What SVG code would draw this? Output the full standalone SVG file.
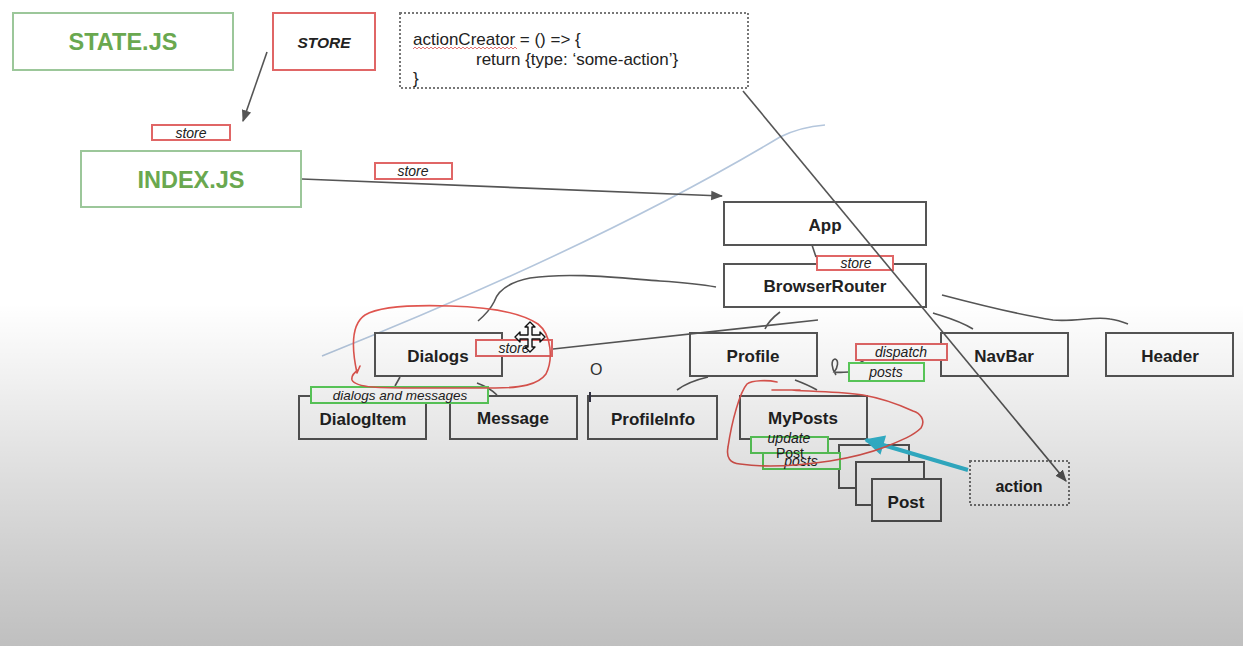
<svg xmlns="http://www.w3.org/2000/svg" width="1243" height="646" viewBox="0 0 1243 646">
  <style>
    .box{fill:#fff;stroke:#555;stroke-width:2}
    .gbox{fill:#fff;stroke:#9cc79a;stroke-width:2}
    .rbox{fill:#fff;stroke:#e06666;stroke-width:2}
    .glab{fill:#fff;stroke:#5ccf5c;stroke-width:2}
    .dot{fill:#fff;stroke:#777;stroke-width:2;stroke-dasharray:2 2}
    .t{font-family:"Liberation Sans",Arial,sans-serif;font-weight:bold;font-size:17px;fill:#222;text-anchor:middle}
    .big{font-size:23.5px;fill:#6aa84f}
    .lab{font-family:"Liberation Sans",Arial,sans-serif;font-style:italic;font-size:14px;fill:#222;text-anchor:middle}
    .code{font-family:"Liberation Sans",Arial,sans-serif;font-size:17px;fill:#222}
    .ln{fill:none;stroke:#555;stroke-width:1.6}
    .pen{fill:none;stroke:#e0554f;stroke-width:1.6;stroke-linejoin:round;stroke-linecap:round}
  </style>
  <defs>
    <marker id="ah" viewBox="0 0 10 10" refX="9" refY="5" markerWidth="12" markerHeight="12" markerUnits="userSpaceOnUse" orient="auto">
      <path d="M0,1 L10,5 L0,9 z" fill="#555"/>
    </marker>
    <marker id="cy" viewBox="0 0 10 10" refX="9" refY="5" markerWidth="22" markerHeight="20" markerUnits="userSpaceOnUse" orient="auto">
      <path d="M0,0 L10,5 L0,10 z" fill="#35bcd6"/>
    </marker>
    <linearGradient id="shade" x1="0" y1="0" x2="0" y2="1">
      <stop offset="0" stop-color="#000" stop-opacity="0"/>
      <stop offset="0.47" stop-color="#000" stop-opacity="0"/>
      <stop offset="0.75" stop-color="#000" stop-opacity="0.137"/>
      <stop offset="1" stop-color="#000" stop-opacity="0.25"/>
    </linearGradient>
  </defs>

  <rect x="0" y="0" width="1243" height="646" fill="#fff"/>

  <!-- light blue sketch stroke behind everything -->
  <path d="M322,356 Q600,245 780,137 Q800,127 825,125" fill="none" stroke="#b4c6dc" stroke-width="1.6"/>

  <g id="state-js">
    <rect class="gbox" x="13" y="13" width="220" height="57"/>
    <text class="t big" x="123" y="50">STATE.JS</text>
  </g>
  <g id="store-box">
    <rect class="rbox" x="273" y="13" width="102" height="57"/>
    <text class="t" x="324" y="48" style="font-style:italic;font-size:15.5px">STORE</text>
  </g>
  <g id="action-creator">
    <rect class="dot" x="400" y="13" width="348" height="75"/>
    <text class="code" x="413" y="45">actionCreator = () =&gt; {</text>
    <text class="code" x="476" y="65">return {type: ‘some-action’}</text>
    <text class="code" x="413" y="84">}</text>
    <polyline points="413,49 415,47 417,49 419,47 421,49 423,47 425,49 427,47 429,49 431,47 433,49 435,47 437,49 439,47 441,49 443,47 445,49 447,47 449,49 451,47 453,49 455,47 457,49 459,47 461,49 463,47 465,49 467,47 469,49 471,47 473,49 475,47 477,49 479,47 481,49 483,47 485,49 487,47 489,49 491,47 493,49 495,47 497,49 499,47 501,49 503,47 505,49 507,47 509,49 511,47 513,49 515,47 517,49" fill="none" stroke="#e06666" stroke-width="0.9"/>
  </g>
  <g id="index-js">
    <rect class="gbox" x="81" y="151" width="220" height="56"/>
    <text class="t big" x="191" y="188">INDEX.JS</text>
  </g>
  <g id="app">
    <rect class="box" x="724" y="202" width="202" height="43"/>
    <text class="t" x="825" y="231">App</text>
  </g>
  <g id="browser-router">
    <rect class="box" x="724" y="264" width="202" height="43"/>
    <text class="t" x="825" y="292">BrowserRouter</text>
  </g>
  <g id="dialogs">
    <rect class="box" x="375" y="333" width="127" height="43"/>
    <text class="t" x="438" y="362">Dialogs</text>
  </g>
  <g id="profile">
    <rect class="box" x="690" y="333" width="127" height="43"/>
    <text class="t" x="753" y="362">Profile</text>
  </g>
  <g id="navbar">
    <rect class="box" x="941" y="333" width="127" height="43"/>
    <text class="t" x="1004" y="362">NavBar</text>
  </g>
  <g id="header">
    <rect class="box" x="1106" y="333" width="127" height="43"/>
    <text class="t" x="1170" y="362">Header</text>
  </g>
  <g id="dialog-item">
    <rect class="box" x="299" y="396" width="127" height="43"/>
    <text class="t" x="363" y="425">DialogItem</text>
  </g>
  <g id="message">
    <rect class="box" x="450" y="396" width="127" height="43"/>
    <text class="t" x="513" y="424">Message</text>
  </g>
  <g id="profile-info">
    <rect class="box" x="588" y="396" width="129" height="43"/>
    <text class="t" x="653" y="425">ProfileInfo</text>
  </g>
  <g id="my-posts">
    <rect class="box" x="740" y="396" width="127" height="43"/>
    <text class="t" x="803" y="424">MyPosts</text>
  </g>
  <g id="post-stack">
    <rect class="box" x="839" y="445" width="70" height="43"/>
    <rect class="box" x="856" y="462" width="68" height="43"/>
    <rect class="box" x="872" y="479" width="69" height="42"/>
    <text class="t" x="906" y="508">Post</text>
  </g>
  <g id="action">
    <rect class="dot" x="970" y="461" width="99" height="44"/>
    <text class="t" x="1019" y="492" style="font-size:16px">action</text>
  </g>

  <g id="label-store-1">
    <rect class="rbox" x="152" y="125" width="78" height="15"/>
    <text class="lab" x="191" y="138">store</text>
  </g>
  <g id="label-store-2">
    <rect class="rbox" x="375" y="163" width="77" height="16"/>
    <text class="lab" x="413" y="176">store</text>
  </g>
  <g id="label-store-3">
    <rect class="rbox" x="817" y="256" width="76" height="14"/>
    <text class="lab" x="856" y="268">store</text>
  </g>

  <!-- connectors, drawn over the boxes -->
  <g id="connectors">
    <line class="ln" x1="267" y1="52" x2="243" y2="121" marker-end="url(#ah)"/>
    <line class="ln" x1="302" y1="179" x2="722" y2="196" marker-end="url(#ah)"/>
    <line class="ln" x1="743" y1="91" x2="1066" y2="481" marker-end="url(#ah)"/>
    <line class="ln" x1="812" y1="245" x2="816" y2="257"/>
    <path class="ln" d="M478,321 C485,315 490,310 494,302 C498,290 510,282 530,278 C570,272 620,278 660,281 C690,283 705,285 716,287"/>
    <path class="ln" d="M553,349 L818,320"/>
    <path class="ln" d="M780,312 C772,318 768,322 765,329"/>
    <path class="ln" d="M942,295 C980,305 1020,315 1053,320 C1075,322 1095,316 1110,319 C1118,320 1123,322 1128,324"/>
    <path class="ln" d="M933,313 C945,317 958,320 973,329"/>
    <path class="ln" d="M400,377 L395,386"/>
    <path class="ln" d="M477,383 C485,386 492,390 497,395"/>
    <path class="ln" d="M677,390 C685,384 695,380 708,377"/>
    <path class="ln" d="M795,380 C803,383 810,386 817,390"/>
    <path class="ln" d="M858,364 L866,359"/>
    <path class="ln" d="M836,375 C831,368 831,360 835,359 C839,360 838,368 834,372 C837,373 844,372 849,372"/>
  </g>

  <g id="label-store-4">
    <rect class="rbox" x="476" y="340" width="76" height="16"/>
    <text class="lab" x="514" y="353">store</text>
  </g>
  <g id="label-dialogs-messages">
    <rect class="glab" x="311" y="387" width="177" height="16"/>
    <text class="lab" x="400" y="400" style="font-size:13.5px">dialogs and messages</text>
  </g>
  <g id="label-dispatch">
    <rect class="rbox" x="856" y="344" width="91" height="16"/>
    <text class="lab" x="901" y="357">dispatch</text>
  </g>
  <g id="label-posts-1">
    <rect class="glab" x="849" y="363" width="75" height="18"/>
    <text class="lab" x="886" y="377">posts</text>
  </g>
  <g id="label-update-post">
    <rect class="glab" x="751" y="437" width="77" height="16"/>
    <rect class="glab" x="763" y="453" width="77" height="16"/>
    <text class="lab" x="789" y="443">update</text>
    <text class="lab" x="790" y="458" style="font-style:normal">Post</text>
    <text class="lab" x="801" y="466">posts</text>
  </g>

  <!-- stray marks -->
  <text x="590" y="375" style="font-family:'Liberation Sans',Arial,sans-serif;font-size:16px;fill:#333">O</text>
  <line x1="590" y1="392" x2="590" y2="402" stroke="#334" stroke-width="2"/>

  <!-- cyan pointer -->
  <line x1="968" y1="470" x2="866" y2="440" stroke="#35bcd6" stroke-width="4" marker-end="url(#cy)"/>

  <!-- red freehand loops -->
  <path class="pen" d="M360,366 L357,373 C352,350 350,325 365,315 C380,306 420,305 450,306 C490,307 520,312 538,324 C552,335 553,360 546,374 C538,385 520,388 495,388 L420,388 C380,388 356,388 352,380 C351,375 355,372 358,370"/>
  <path class="pen" d="M772,390 L800,390 M777,382 C768,380 752,380 747,384 C740,392 732,420 728,447 C726,458 730,463 740,464 C760,467 790,467 830,461 C855,457 872,452 885,447 C900,441 913,436 921,428 C926,420 920,413 913,411 C900,405 880,398 863,395 C840,391 810,392 792,390"/>

  <!-- move cursor -->
  <polygon points="530,322 535,327 532,327 532,335 540,335 540,332 545,337 540,342 540,339 532,339 532,347 535,347 530,352 525,347 528,347 528,339 520,339 520,342 515,337 520,332 520,335 528,335 528,327 525,327" fill="#fff" stroke="#111" stroke-width="1.4" stroke-linejoin="round"/>

  <!-- shading toward the bottom -->
  <rect x="0" y="0" width="1243" height="646" fill="url(#shade)"/>
</svg>
